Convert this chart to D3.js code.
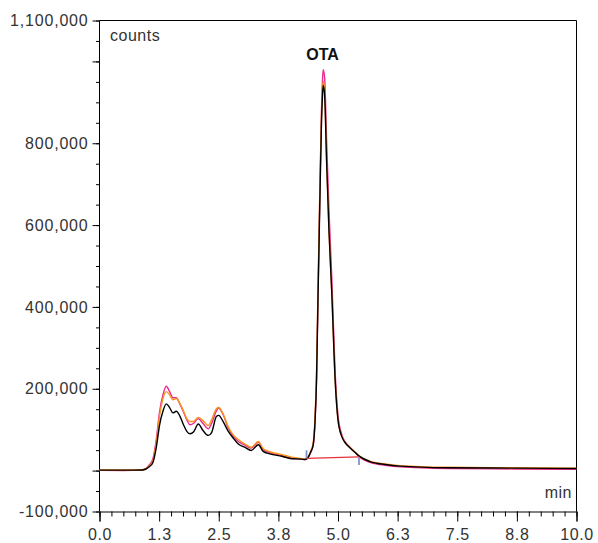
<!DOCTYPE html>
<html>
<head>
<meta charset="utf-8">
<script src="https://cdn.jsdelivr.net/npm/d3@7"></script>
<style>
  body { margin: 0; background: #fff; }
  svg text { font-family: Arial, "Liberation Sans", sans-serif; }
</style>
</head>
<body>
<div class="chart"></div>
<script>
// retention time (min)
const timeMin = [0, 0.5, 0.9, 1.05, 1.12, 1.19, 1.26, 1.33, 1.4, 1.47, 1.54, 1.61, 1.69, 1.76, 1.83,
  1.9, 1.97, 2.07, 2.17, 2.28, 2.35, 2.45, 2.5, 2.59, 2.7, 2.8, 2.91, 3.05, 3.18, 3.33, 3.43, 3.57,
  3.82, 4.03, 4.24, 4.31, 4.37, 4.43, 4.48, 4.52, 4.55, 4.58, 4.62, 4.65, 4.675, 4.69, 4.72, 4.76,
  4.81, 4.87, 4.94, 5.0, 5.08, 5.15, 5.25, 5.36, 5.46, 5.67, 5.99, 6.3, 7.3, 8.7, 10.0]

// detector counts, in thousands
const pinkRun = [0.5, 0, 1, 15, 29, 76, 144, 185, 206, 193, 178, 178, 161, 144, 124, 112, 115, 127,
  115, 102, 115, 146, 153, 137, 104, 84, 71, 62, 55, 69, 51, 44, 37, 30, 28, 27, 31, 45, 62, 125,
  225, 425, 680, 860, 955, 980, 960, 810, 640, 470, 240, 135, 88, 70, 57, 44, 32, 20, 13, 9, 5, 4, 3]
const orangeRun = [1.5, 1.5, 2, 12, 24, 68, 134, 176, 193, 185, 173, 176, 163, 146, 127, 120, 120,
  130, 122, 110, 124, 151, 154, 139, 107, 88, 76, 65, 57, 71, 54, 46, 39, 33, 29, 28, 33, 48, 68,
  135, 240, 440, 690, 850, 930, 952, 925, 765, 590, 435, 222, 124, 84, 69, 57, 45, 35, 23, 16, 12, 8, 7, 6]
const blackRun = [1, 1, 1.5, 10, 20, 56, 112, 145, 163, 154, 141, 145, 132, 112, 96, 90, 94, 114,
  98, 86, 93, 132, 135, 120, 96, 80, 65, 57, 49, 63, 47, 41, 35, 29, 28, 27, 32, 46, 63, 124, 222,
  417, 661, 832, 917, 941, 917, 759, 588, 434, 222, 124, 83, 68, 56, 44, 34, 22, 15, 11, 7, 6, 5]

// OTA peak integration baseline
const integrationTimes = [4.34, 5.44]
const integrationLevels = [30, 33.4]

const xTickLabels = ['0.0', '1.3', '2.5', '3.8', '5.0', '6.3', '7.5', '8.8', '10.0']
const yLabelValues = [-100000, 200000, 400000, 600000, 800000, 1100000]
const yMajorValues = [-100000, 0, 200000, 400000, 600000, 800000, 1000000, 1100000]

const width = 598, height = 543

const x = d3.scaleLinear().domain([0, 10]).range([99.5, 576.5])
const y = d3.scaleLinear().domain([-100000, 1100000]).range([511.5, 20.5])

const svg = d3.select('.chart')
  .append('svg')
    .attr('width', width)
    .attr('height', height)

// frame
svg.append('path')
  .attr('d', `M${x(0)},${y(-100000)}V${y(1100000)}H${x(10)}V${y(-100000)}`)
  .attr('fill', 'none')
  .attr('stroke', '#000')

// x axis
const xMinor = d3.range(0, 41).map(i => i * 0.25)
svg.append('g')
  .attr('transform', `translate(0,${y(-100000)})`)
  .call(d3.axisBottom(x).tickValues(xMinor).tickSize(5).tickFormat(''))
  .call(g => g.select('.domain').remove())
svg.append('g')
  .attr('transform', `translate(0,${y(-100000)})`)
  .call(d3.axisBottom(x)
    .tickValues(xTickLabels.map((d, i) => i * 1.25))
    .tickSize(10)
    .tickPadding(7)
    .tickFormat((d, i) => xTickLabels[i]))
  .call(g => g.select('.domain').attr('stroke', '#000'))
  .call(g => g.selectAll('text')
    .attr('font-size', 16)
    .attr('letter-spacing', 0.6)
    .attr('fill', '#333'))

// y axis
const yMinor = d3.range(-100000, 1100001, 50000)
const countFormat = d => d3.format(',')(d).replace('\u2212', '-')
svg.append('g')
  .attr('transform', `translate(${x(0)},0)`)
  .call(d3.axisLeft(y).tickValues(yMinor).tickSize(3.5).tickFormat(''))
  .call(g => g.select('.domain').remove())
svg.append('g')
  .attr('transform', `translate(${x(0)},0)`)
  .call(d3.axisLeft(y).tickValues(yMajorValues).tickSize(7).tickFormat(''))
  .call(g => g.select('.domain').remove())
svg.append('g')
  .attr('transform', `translate(${x(0)},0)`)
  .call(d3.axisLeft(y).tickValues(yLabelValues).tickSize(0).tickPadding(11)
    .tickFormat(countFormat))
  .call(g => g.select('.domain').remove())
  .call(g => g.selectAll('text')
    .attr('font-size', 16)
    .attr('letter-spacing', 0.8)
    .attr('fill', '#333'))

// axis captions
svg.append('text')
  .attr('x', 110).attr('y', 41)
  .attr('font-size', 16).attr('letter-spacing', 0.5).attr('fill', '#333')
  .text('counts')
svg.append('text')
  .attr('x', 572).attr('y', 498)
  .attr('text-anchor', 'end')
  .attr('font-size', 16).attr('letter-spacing', 0.5).attr('fill', '#333')
  .text('min')

// traces
const line = d3.line()
  .x((d, i) => x(timeMin[i]))
  .y(d => y(d * 1000))
  .curve(d3.curveMonotoneX)

const runs = [
  { values: pinkRun, color: '#ea2a8c' },
  { values: orangeRun, color: '#f7941d' },
  { values: blackRun, color: '#000' }
]

svg.selectAll('path.trace')
  .data(runs)
  .enter()
  .append('path')
    .attr('class', 'trace')
    .attr('d', d => line(d.values))
    .attr('fill', 'none')
    .attr('stroke', d => d.color)
    .attr('stroke-width', 1.4)
    .attr('stroke-linejoin', 'round')

// integration baseline + delimiters
svg.append('line')
  .attr('x1', x(integrationTimes[0])).attr('y1', y(integrationLevels[0] * 1000))
  .attr('x2', x(integrationTimes[1])).attr('y2', y(integrationLevels[1] * 1000))
  .attr('stroke', '#e8303a')
  .attr('stroke-width', 1.2)

svg.append('line')
  .attr('x1', x(integrationTimes[0])).attr('y1', y(integrationLevels[0] * 1000))
  .attr('x2', x(integrationTimes[0])).attr('y2', y(integrationLevels[0] * 1000) - 8)
  .attr('stroke', '#7f95c9').attr('stroke-width', 1.8)
svg.append('line')
  .attr('x1', x(integrationTimes[1])).attr('y1', y(integrationLevels[1] * 1000))
  .attr('x2', x(integrationTimes[1])).attr('y2', y(integrationLevels[1] * 1000) + 8)
  .attr('stroke', '#7f95c9').attr('stroke-width', 1.8)

// peak label
svg.append('text')
  .attr('x', 322.5).attr('y', 60)
  .attr('text-anchor', 'middle')
  .attr('font-size', 16)
  .attr('font-weight', 'bold')
  .attr('fill', '#111')
  .text('OTA')
</script>
</body>
</html>
